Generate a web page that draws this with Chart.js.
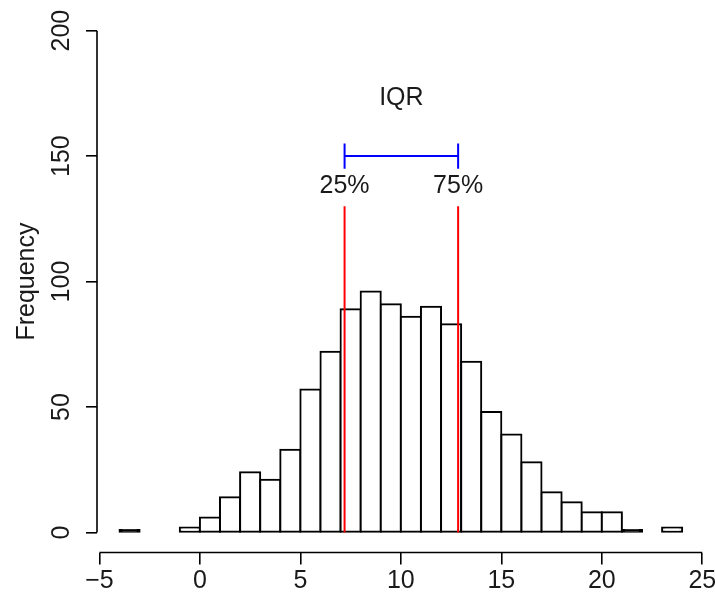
<!DOCTYPE html>
<html>
<head>
<meta charset="utf-8">
<script src="https://cdn.jsdelivr.net/npm/chart.js@4/dist/chart.umd.min.js"></script>
<style>
  html, body { margin: 0; padding: 0; background: #fff; overflow: hidden; }
  canvas { display: block; }
</style>
</head>
<body>
<canvas id="hist" width="715" height="595"></canvas>
<script>
// histogram bins (edges) and counts
var binEdges = [-4, -3, -2, -1, 0, 1, 2, 3, 4, 5, 6, 7, 8, 9, 10, 11, 12, 13, 14,
	15, 16, 17, 18, 19, 20, 21, 22, 23, 24];
var counts = [1, 0, 0, 2, 6, 14, 24, 21, 33, 57, 72, 89, 96, 91, 86, 90, 83, 68,
	48, 39, 28, 16, 12, 8, 8, 1, 0, 2];

var xTicks = [-5, 0, 5, 10, 15, 20, 25];
var yTicks = [0, 50, 100, 150, 200];

var quartiles = [7.2, 12.85];
var quartileLabels = ['25%', '75%'];
var quartileTop = 130;
var iqrLevel = 150;
var iqrLabel = 'IQR';
var yTitle = 'Frequency';

var FONT = '"Liberation Sans", Arial, sans-serif';
var TEXT = '#1a1a1a';

var bars = counts.map(function (c, i) {
	return { x: (binEdges[i] + binEdges[i + 1]) / 2, y: c };
});

function seg(x0, y0, x1, y1, color) {
	return {
		type: 'line',
		data: [{ x: x0, y: y0 }, { x: x1, y: y1 }],
		borderColor: color,
		borderWidth: 2,
		pointRadius: 0,
		fill: false,
		tension: 0,
		order: 1
	};
}

var datasets = [];
quartiles.forEach(function (q) {
	datasets.push(seg(q, 0, q, quartileTop, '#ff0000'));
	datasets.push(seg(q, iqrLevel - 5, q, iqrLevel + 5, '#0000ff'));
});
datasets.push(seg(quartiles[0], iqrLevel, quartiles[1], iqrLevel, '#0000ff'));
datasets.push({
	type: 'bar',
	data: bars,
	backgroundColor: function (ctx) {
		return ctx.raw && ctx.raw.y === 1 ? '#000' : '#fff';
	},
	borderColor: '#000',
	borderWidth: 2,
	borderSkipped: false,
	inflateAmount: 1,
	barPercentage: 1,
	categoryPercentage: 1,
	order: 10
});

// axis lines only across the tick range, plus the text notes
var notes = {
	id: 'notes',
	afterDraw: function (chart) {
		var ctx = chart.ctx, area = chart.chartArea;
		var x = chart.scales.x, y = chart.scales.y;
		ctx.save();
		ctx.strokeStyle = '#000';
		ctx.lineWidth = 1.6;
		ctx.beginPath();
		ctx.moveTo(x.getPixelForValue(xTicks[0]), area.bottom);
		ctx.lineTo(x.getPixelForValue(xTicks[xTicks.length - 1]), area.bottom);
		ctx.moveTo(area.left, y.getPixelForValue(yTicks[0]));
		ctx.lineTo(area.left, y.getPixelForValue(yTicks[yTicks.length - 1]));
		ctx.stroke();

		ctx.fillStyle = TEXT;
		ctx.font = '25px ' + FONT;
		ctx.textAlign = 'center';
		ctx.textBaseline = 'middle';
		quartiles.forEach(function (q, i) {
			ctx.fillText(quartileLabels[i], x.getPixelForValue(q), y.getPixelForValue(138));
		});
		ctx.fillText(iqrLabel, x.getPixelForValue((quartiles[0] + quartiles[1]) / 2), y.getPixelForValue(173));
		ctx.restore();
	}
};

new Chart(document.getElementById('hist'), {
	type: 'bar',
	data: { datasets: datasets },
	plugins: [notes],
	options: {
		responsive: false,
		animation: false,
		devicePixelRatio: 1,
		layout: { padding: { top: 10.6, right: 10.3, left: 0, bottom: 0 } },
		plugins: {
			legend: { display: false },
			tooltip: { enabled: false }
		},
		scales: {
			x: {
				type: 'linear',
				min: -5.12,
				max: 25.12,
				offset: false,
				afterBuildTicks: function (s) {
					s.ticks = xTicks.map(function (v) { return { value: v }; });
				},
				afterFit: function (s) {
					s.height = 42.5;
					s.paddingLeft = 0;
					s.paddingRight = 0;
				},
				ticks: {
					autoSkip: false,
					maxRotation: 0,
					padding: 2,
					color: TEXT,
					font: { family: FONT, size: 25 },
					callback: function (v) {
						return v < 0 ? '\u2212' + Math.abs(v) : String(v);
					}
				},
				grid: {
					offset: false,
					drawOnChartArea: false,
					drawTicks: true,
					tickLength: 12,
					color: '#000',
					lineWidth: 1.6
				},
				border: { display: false }
			},
			y: {
				type: 'linear',
				min: -8,
				max: 208,
				afterBuildTicks: function (s) {
					s.ticks = yTicks.map(function (v) { return { value: v }; });
				},
				afterFit: function (s) {
					s.width = 97;
					s.paddingTop = 0;
					s.paddingBottom = 0;
				},
				ticks: {
					minRotation: 90,
					maxRotation: 90,
					crossAlign: 'center',
					padding: 3,
					color: TEXT,
					font: { family: FONT, size: 25 }
				},
				grid: {
					drawOnChartArea: false,
					drawTicks: true,
					tickLength: 11,
					color: '#000',
					lineWidth: 1.6
				},
				border: { display: false },
				title: {
					display: true,
					text: yTitle,
					color: TEXT,
					font: { family: FONT, size: 25 },
					padding: { top: 12, bottom: 0 }
				}
			}
		}
	}
});
</script>
</body>
</html>
